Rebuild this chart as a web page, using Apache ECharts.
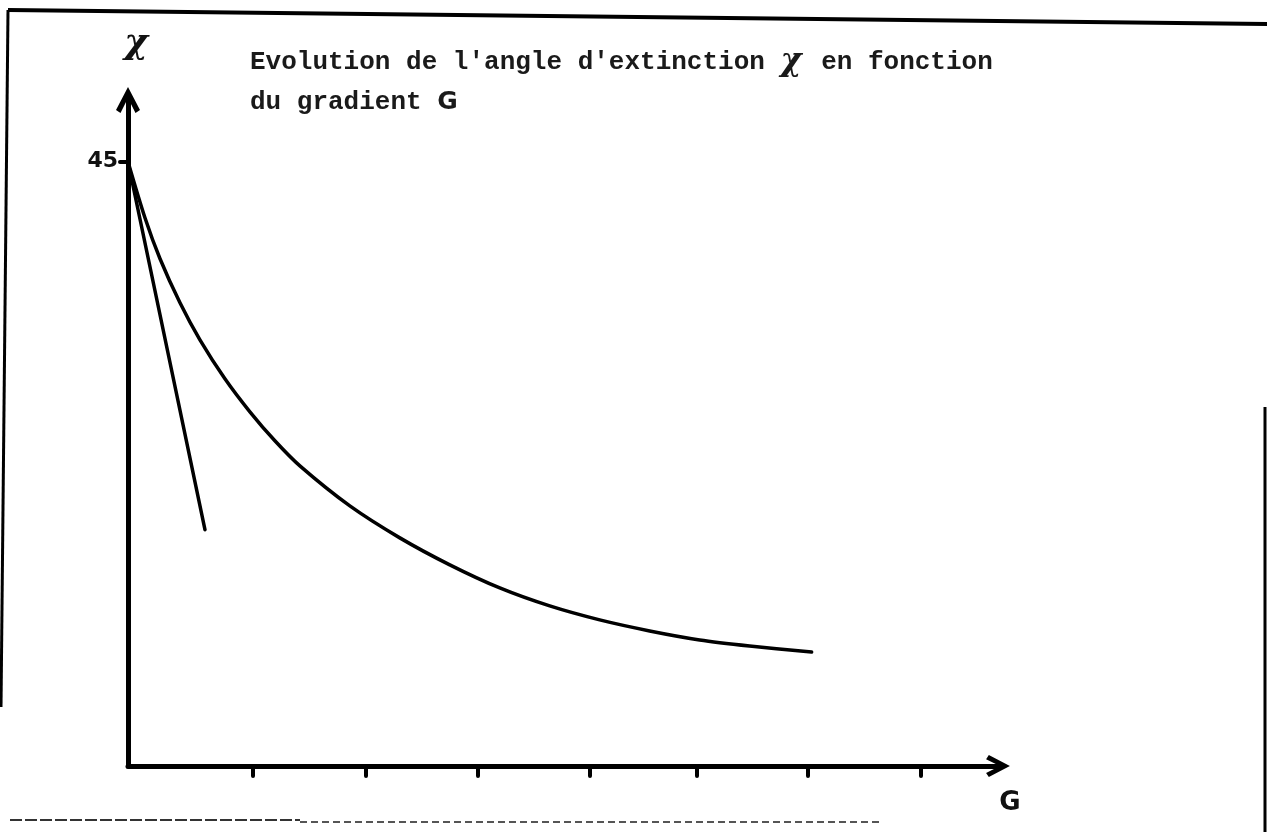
<!DOCTYPE html>
<html>
<head>
<meta charset="utf-8">
<script src="https://cdn.jsdelivr.net/npm/echarts@6/dist/echarts.min.js"></script>
<style>
html,body{margin:0;padding:0;background:#fff;}
#c{width:1267px;height:832px;}
</style>
</head>
<body>
<div id="c"></div>
<script>
// Gradient G (arbitrary units, 1 unit = one tick spacing) and extinction angle chi (degrees)
const curveG   = [0, 0.152, 0.287, 0.466, 0.645, 0.869, 1.093, 1.317, 1.541, 1.989, 2.437, 2.885, 3.333, 3.781, 4.229, 4.677, 5.125, 5.573, 6.129];
const curveChi = [45, 40.83, 37.78, 34.5, 31.74, 28.84, 26.38, 24.22, 22.35, 19.37, 16.99, 14.98, 13.26, 11.92, 10.88, 10.06, 9.39, 8.94, 8.49];
const tangentG   = [0, 0.69];
const tangentChi = [45, 17.6];
const gTicks   = [1.12, 2.13, 3.14, 4.14, 5.10, 6.09, 7.11];
const chiTicks = [45];

const chevron = 'path://M12,0 L24,23 L19.5,26 L12,11 L4.5,26 L0,23 Z';

const chart = echarts.init(document.getElementById('c'), null, {renderer:'canvas'});
chart.setOption({
  backgroundColor: '#ffffff',
  animation: false,
  title: {
    left: 245, top: 37,
    text: "{m|Evolution de l'angle d'extinction }{chi|χ}{m| en fonction}\n{m|du gradient }{g|G}",
    textStyle: {
      fontWeight: 'normal',
      rich: {
        m:   {fontFamily: 'Liberation Mono', fontWeight: 'bold', fontSize: 26, color: '#1a1a1a', lineHeight: 40},
        chi: {fontFamily: 'DejaVu Serif', fontStyle: 'italic', fontWeight: 'bold', fontSize: 32, color: '#1a1a1a', lineHeight: 40, padding: [0, 4, 0, 0]},
        g:   {fontFamily: 'DejaVu Sans', fontWeight: 'bold', fontSize: 25, color: '#1a1a1a', lineHeight: 40}
      }
    }
  },
  grid: {left: 128, top: 100, width: 870, height: 666, containLabel: false},
  xAxis: {
    type: 'value', min: 0, max: 7.80,
    name: 'G', nameLocation: 'end', nameGap: 12,
    nameTextStyle: {fontFamily: 'DejaVu Sans', fontWeight: 'bold', fontSize: 26, color: '#111',
                    align: 'center', verticalAlign: 'top', padding: [24, 0, 0, 0]},
    axisLine: {show: true, lineStyle: {color: '#000', width: 5}, symbol: ['none', chevron], symbolSize: [22, 28]},
    axisTick: {show: true, inside: false, length: 10, customValues: gTicks, lineStyle: {color: '#000', width: 4, cap: 'round'}},
    axisLabel: {show: false},
    splitLine: {show: false}
  },
  yAxis: {
    type: 'value', min: 0, max: 49.6,
    name: 'χ', nameLocation: 'end', nameGap: 38,
    nameTextStyle: {fontFamily: 'DejaVu Serif', fontStyle: 'italic', fontWeight: 'bold', fontSize: 36, color: '#111', align: 'center', padding: [0, 0, 0, 16]},
    axisLine: {show: true, lineStyle: {color: '#000', width: 5}, symbol: ['none', chevron], symbolSize: [24, 28]},
    axisTick: {show: true, inside: false, length: 8, customValues: chiTicks, lineStyle: {color: '#000', width: 4, cap: 'round'}},
    axisLabel: {show: true, customValues: chiTicks, margin: 10, fontFamily: 'DejaVu Sans', fontWeight: 'bold', fontSize: 22, color: '#111', padding: [6, 0, 0, 0]},
    splitLine: {show: false}
  },
  series: [
    {
      type: 'line', name: 'courbe', smooth: 0.3, symbol: 'none',
      data: curveG.map((g, i) => [g, curveChi[i]]),
      lineStyle: {color: '#000', width: 3.5, cap: 'round', join: 'round'}
    },
    {
      type: 'line', name: 'tangente', symbol: 'none',
      data: tangentG.map((g, i) => [g, tangentChi[i]]),
      lineStyle: {color: '#000', width: 3.5, cap: 'round'}
    }
  ],
  graphic: [
    {type: 'line', shape: {x1: 8, y1: 10, x2: 1267, y2: 24}, style: {stroke: '#000', lineWidth: 4}},
    {type: 'line', shape: {x1: 8, y1: 10, x2: 1, y2: 707}, style: {stroke: '#000', lineWidth: 3}},
    {type: 'line', shape: {x1: 1265, y1: 407, x2: 1265, y2: 832}, style: {stroke: '#000', lineWidth: 3}},
    {type: 'line', shape: {x1: 10, y1: 820, x2: 300, y2: 820}, style: {stroke: '#333', lineWidth: 2, lineDash: [12, 3]}},
    {type: 'line', shape: {x1: 300, y1: 822, x2: 880, y2: 822}, style: {stroke: '#555', lineWidth: 2, lineDash: [7, 4]}}
  ]
});
</script>
</body>
</html>
